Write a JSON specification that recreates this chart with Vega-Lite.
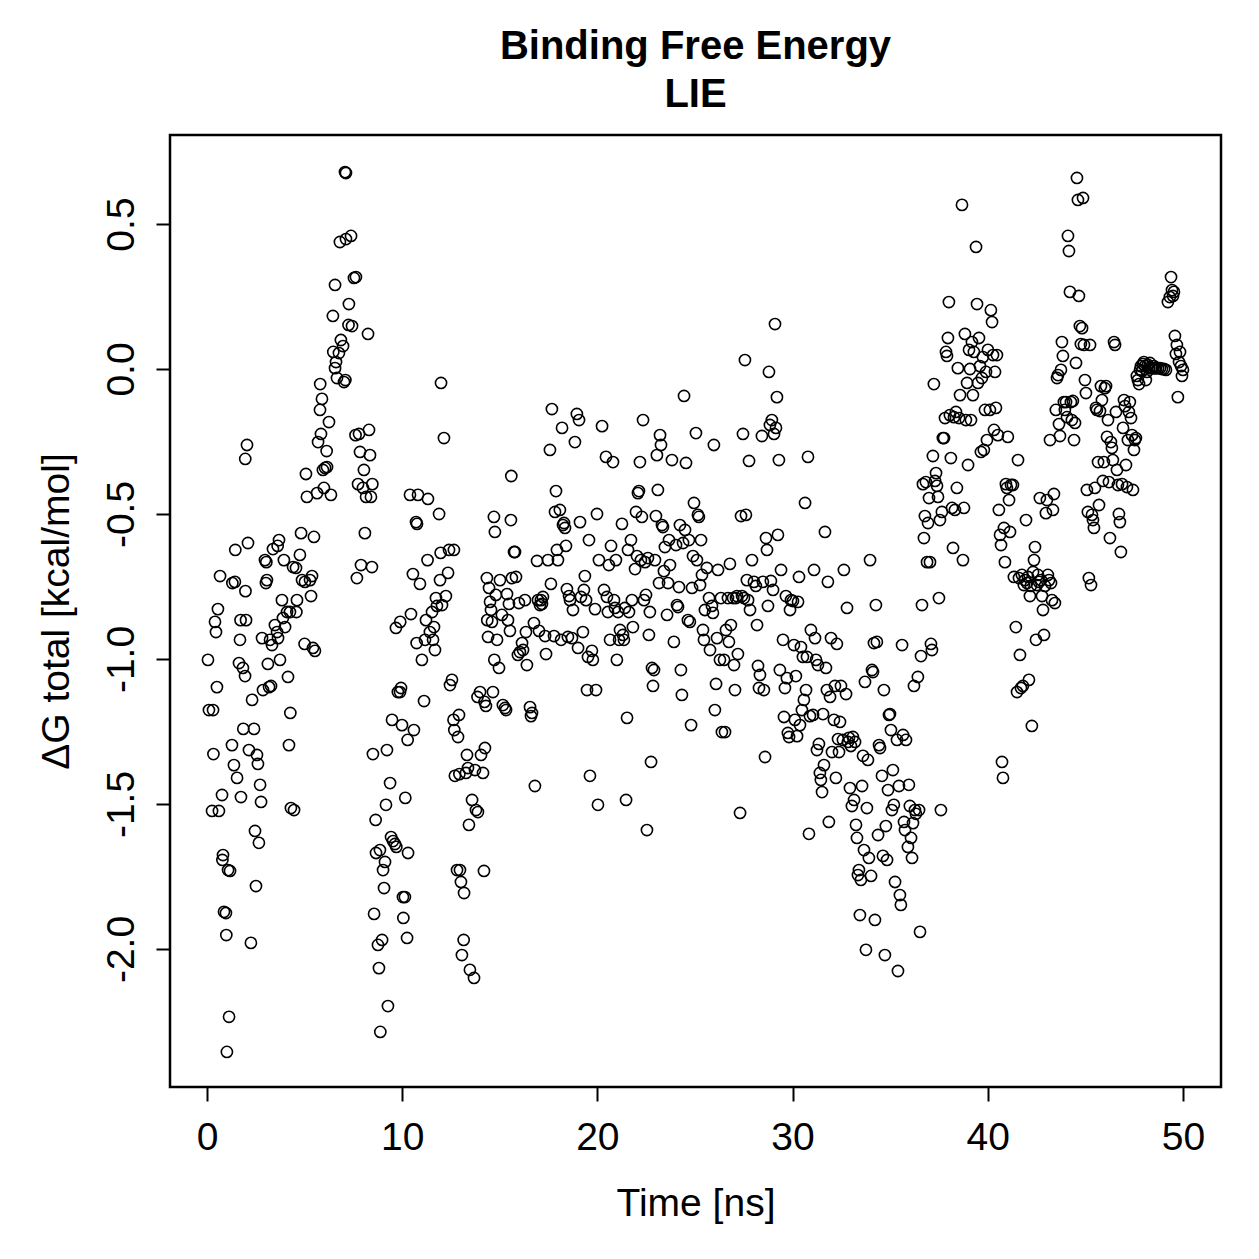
{
"$schema":"https://vega.github.io/schema/vega-lite/v6.json",
"autosize":{"type":"none"},
"width":1051,"height":952,
"padding":{"left":170,"top":135,"right":38,"bottom":172},
"background":"white",
"config":{"view":{"stroke":"black","strokeWidth":2.5},"font":"Liberation Sans"},
"title":{"text":["Binding Free Energy","LIE"],"fontSize":40,"fontWeight":"bold","font":"Liberation Sans","color":"black","anchor":"middle","lineHeight":48,"offset":20},
"data":{"values":[
{"t":0.05,"dG":-1.003},{"t":0.10,"dG":-1.176},{"t":0.31,"dG":-1.176},{"t":0.33,"dG":-1.328},{"t":0.26,"dG":-1.524},{"t":0.46,"dG":-0.907},{"t":0.41,"dG":-0.872},{"t":0.56,"dG":-0.828},{"t":0.51,"dG":-1.097},{"t":0.67,"dG":-0.714},{"t":0.61,"dG":-1.524},{"t":0.77,"dG":-1.469},{"t":0.82,"dG":-1.676},{"t":0.79,"dG":-1.693},{"t":0.87,"dG":-1.872},{"t":0.97,"dG":-1.876},{"t":0.99,"dG":-1.952},{"t":1.08,"dG":-1.728},{"t":1.18,"dG":-1.731},{"t":1.13,"dG":-2.234},{"t":1.02,"dG":-2.355},{"t":1.28,"dG":-1.297},{"t":1.30,"dG":-0.738},{"t":1.43,"dG":-0.734},{"t":1.45,"dG":-0.624},{"t":1.38,"dG":-1.366},{"t":1.54,"dG":-1.410},{"t":1.69,"dG":-0.934},{"t":1.64,"dG":-1.014},{"t":1.84,"dG":-1.031},{"t":1.95,"dG":-1.059},{"t":1.72,"dG":-0.866},{"t":1.97,"dG":-0.766},{"t":1.86,"dG":-1.241},{"t":1.74,"dG":-1.476},{"t":2.05,"dG":-0.262},{"t":1.96,"dG":-0.310},{"t":2.10,"dG":-0.600},{"t":2.00,"dG":-0.866},{"t":2.15,"dG":-1.314},{"t":2.25,"dG":-1.979},
{"t":2.31,"dG":-1.141},{"t":2.41,"dG":-1.241},{"t":2.46,"dG":-1.593},{"t":2.51,"dG":-1.783},{"t":2.56,"dG":-1.331},{"t":2.61,"dG":-1.362},{"t":2.66,"dG":-1.634},{"t":2.72,"dG":-1.434},{"t":2.77,"dG":-1.493},{"t":2.82,"dG":-0.928},{"t":2.87,"dG":-1.107},{"t":2.97,"dG":-0.659},{"t":3.02,"dG":-0.738},{"t":3.04,"dG":-0.666},{"t":3.07,"dG":-0.728},{"t":3.12,"dG":-1.017},{"t":3.18,"dG":-1.097},{"t":3.28,"dG":-1.093},{"t":3.23,"dG":-0.934},{"t":3.33,"dG":-0.952},{"t":3.38,"dG":-0.621},{"t":3.48,"dG":-0.883},{"t":3.59,"dG":-0.907},{"t":3.64,"dG":-0.928},{"t":3.62,"dG":-0.610},{"t":3.69,"dG":-0.590},{"t":3.74,"dG":-1.003},{"t":3.84,"dG":-0.797},{"t":3.89,"dG":-0.859},{"t":3.94,"dG":-0.659},{"t":4.00,"dG":-0.890},
{"t":4.10,"dG":-0.838},{"t":4.25,"dG":-0.838},{"t":4.15,"dG":-1.062},{"t":4.20,"dG":-1.297},{"t":4.27,"dG":-1.186},{"t":4.30,"dG":-1.514},{"t":4.46,"dG":-1.521},{"t":4.41,"dG":-0.683},{"t":4.56,"dG":-0.686},{"t":4.58,"dG":-0.838},{"t":4.61,"dG":-0.797},{"t":4.76,"dG":-0.641},{"t":4.82,"dG":-0.566},{"t":4.87,"dG":-0.728},{"t":5.02,"dG":-0.734},{"t":5.07,"dG":-0.362},{"t":5.12,"dG":-0.441},{"t":5.00,"dG":-0.948},{"t":5.28,"dG":-0.728},{"t":5.38,"dG":-0.714},{"t":5.43,"dG":-0.962},{"t":5.53,"dG":-0.972},{"t":5.33,"dG":-0.783},{"t":5.48,"dG":-0.579},{"t":5.64,"dG":-0.428},{"t":5.69,"dG":-0.252},{"t":5.79,"dG":-0.141},{"t":5.80,"dG":-0.052},{"t":5.89,"dG":-0.103},{"t":5.84,"dG":-0.224},{"t":5.94,"dG":-0.348},{"t":5.99,"dG":-0.410},
{"t":6.05,"dG":-0.341},{"t":6.15,"dG":-0.338},{"t":6.13,"dG":-0.283},{"t":6.25,"dG":-0.183},{"t":6.35,"dG":-0.434},{"t":6.45,"dG":0.183},{"t":6.56,"dG":0.290},{"t":6.47,"dG":0.059},{"t":6.56,"dG":0.003},{"t":6.61,"dG":0.024},{"t":6.66,"dG":-0.031},{"t":6.76,"dG":0.055},{"t":6.81,"dG":0.438},{"t":6.86,"dG":0.100},{"t":6.97,"dG":0.079},{"t":7.02,"dG":-0.045},{"t":7.07,"dG":0.679},{"t":7.12,"dG":0.676},{"t":7.09,"dG":-0.038},{"t":7.12,"dG":0.448},{"t":7.38,"dG":0.459},{"t":7.27,"dG":0.224},{"t":7.25,"dG":0.152},{"t":7.43,"dG":0.148},{"t":7.53,"dG":0.314},{"t":7.63,"dG":0.317},{"t":7.61,"dG":-0.228},{"t":7.68,"dG":-0.721},{"t":7.74,"dG":-0.397},{"t":7.79,"dG":-0.224},{"t":7.84,"dG":-0.286},{"t":7.89,"dG":-0.676},{"t":7.99,"dG":-0.410},{"t":8.09,"dG":-0.566},{"t":8.04,"dG":-0.348},
{"t":8.15,"dG":-0.441},{"t":8.25,"dG":0.121},{"t":8.30,"dG":-0.210},{"t":8.35,"dG":-0.297},{"t":8.40,"dG":-0.441},{"t":8.45,"dG":-0.683},{"t":8.47,"dG":-0.397},{"t":8.50,"dG":-1.328},{"t":8.56,"dG":-1.879},{"t":8.66,"dG":-1.669},{"t":8.64,"dG":-1.555},{"t":8.76,"dG":-1.986},{"t":8.81,"dG":-2.066},{"t":8.86,"dG":-1.659},{"t":8.88,"dG":-2.286},{"t":8.97,"dG":-1.969},{"t":9.02,"dG":-1.728},{"t":9.07,"dG":-1.790},{"t":9.12,"dG":-1.700},{"t":9.17,"dG":-1.503},{"t":9.22,"dG":-1.314},{"t":9.27,"dG":-2.197},{"t":9.38,"dG":-1.428},{"t":9.43,"dG":-1.614},{"t":9.53,"dG":-1.628},{"t":9.63,"dG":-1.638},{"t":9.48,"dG":-1.210},{"t":9.68,"dG":-0.893},{"t":9.70,"dG":-1.648},{"t":9.78,"dG":-1.114},{"t":9.89,"dG":-1.114},{"t":9.90,"dG":-0.872},{"t":9.94,"dG":-1.100},{"t":9.99,"dG":-1.228},{"t":10.04,"dG":-1.821},{"t":10.14,"dG":-1.821},{"t":10.06,"dG":-1.893},{"t":10.25,"dG":-1.962},{"t":10.16,"dG":-1.479},{"t":10.30,"dG":-1.669},{"t":10.28,"dG":-1.279},
{"t":10.40,"dG":-0.434},{"t":10.45,"dG":-0.845},{"t":10.55,"dG":-0.707},{"t":10.60,"dG":-1.245},{"t":10.71,"dG":-0.528},{"t":10.76,"dG":-0.534},{"t":10.74,"dG":-0.945},{"t":10.81,"dG":-0.434},{"t":10.91,"dG":-0.741},{"t":11.01,"dG":-1.003},{"t":11.12,"dG":-1.145},{"t":11.17,"dG":-0.934},{"t":11.22,"dG":-0.866},{"t":11.32,"dG":-0.448},{"t":11.30,"dG":-0.659},{"t":11.42,"dG":-0.907},{"t":11.53,"dG":-0.838},{"t":11.58,"dG":-0.934},{"t":11.63,"dG":-0.890},{"t":11.68,"dG":-0.969},{"t":11.73,"dG":-0.790},{"t":11.78,"dG":-0.817},{"t":11.89,"dG":-0.500},{"t":11.94,"dG":-0.728},{"t":11.99,"dG":-0.048},{"t":12.04,"dG":-0.814},{"t":12.14,"dG":-0.238},{"t":11.97,"dG":-0.634},
{"t":12.24,"dG":-0.783},{"t":12.35,"dG":-0.703},{"t":12.40,"dG":-0.624},{"t":12.65,"dG":-0.624},{"t":12.45,"dG":-1.090},{"t":12.55,"dG":-1.072},{"t":12.63,"dG":-1.210},{"t":12.67,"dG":-1.245},{"t":12.70,"dG":-1.403},{"t":12.81,"dG":-1.728},{"t":12.86,"dG":-1.269},{"t":12.91,"dG":-1.193},{"t":12.93,"dG":-1.397},{"t":12.96,"dG":-1.728},{"t":13.01,"dG":-1.769},{"t":13.06,"dG":-2.021},{"t":13.17,"dG":-1.807},{"t":13.15,"dG":-1.969},{"t":13.27,"dG":-1.393},{"t":13.32,"dG":-1.331},{"t":13.37,"dG":-1.376},{"t":13.42,"dG":-1.572},{"t":13.47,"dG":-2.072},{"t":13.58,"dG":-1.486},{"t":13.68,"dG":-2.100},{"t":13.73,"dG":-1.383},{"t":13.78,"dG":-1.521},{"t":13.88,"dG":-1.528},{"t":13.86,"dG":-1.131},{"t":13.99,"dG":-1.114},{"t":14.04,"dG":-1.331},{"t":14.14,"dG":-1.393},{"t":14.19,"dG":-1.731},{"t":14.24,"dG":-1.307},{"t":14.22,"dG":-1.148},{"t":14.29,"dG":-1.162},
{"t":14.34,"dG":-0.721},{"t":14.36,"dG":-0.866},{"t":14.40,"dG":-0.924},{"t":14.45,"dG":-0.755},{"t":14.50,"dG":-0.803},{"t":14.55,"dG":-0.831},{"t":14.60,"dG":-0.872},{"t":14.65,"dG":-1.114},{"t":14.70,"dG":-0.510},{"t":14.72,"dG":-1.003},{"t":14.75,"dG":-0.562},{"t":14.80,"dG":-0.779},{"t":14.86,"dG":-0.934},{"t":14.96,"dG":-1.031},{"t":15.01,"dG":-0.728},{"t":15.11,"dG":-0.848},{"t":15.16,"dG":-1.159},{"t":15.27,"dG":-1.169},{"t":15.32,"dG":-1.176},{"t":15.37,"dG":-0.776},{"t":15.42,"dG":-0.866},{"t":15.47,"dG":-0.810},{"t":15.52,"dG":-0.903},{"t":15.57,"dG":-0.521},{"t":15.59,"dG":-0.369},{"t":15.62,"dG":-0.721},{"t":15.73,"dG":-0.631},{"t":15.78,"dG":-0.631},{"t":15.83,"dG":-0.717},{"t":15.93,"dG":-0.986},{"t":15.98,"dG":-0.807},
{"t":16.03,"dG":-0.976},{"t":16.19,"dG":-0.969},{"t":16.14,"dG":-0.945},{"t":16.29,"dG":-0.797},{"t":16.34,"dG":-0.907},{"t":16.39,"dG":-1.021},{"t":16.55,"dG":-1.166},{"t":16.60,"dG":-1.197},{"t":16.65,"dG":-1.186},{"t":16.75,"dG":-0.876},{"t":16.80,"dG":-1.438},{"t":16.91,"dG":-0.662},{"t":16.96,"dG":-0.797},{"t":17.01,"dG":-0.903},{"t":17.06,"dG":-0.814},{"t":17.11,"dG":-0.797},{"t":17.16,"dG":-0.810},{"t":17.21,"dG":-0.786},{"t":17.32,"dG":-0.921},{"t":17.37,"dG":-0.983},{"t":17.47,"dG":-0.659},{"t":17.57,"dG":-0.279},{"t":17.62,"dG":-0.741},{"t":17.67,"dG":-0.138},{"t":17.78,"dG":-0.921},{"t":17.83,"dG":-0.493},{"t":17.88,"dG":-0.421},{"t":17.93,"dG":-0.624},{"t":17.98,"dG":-0.659},
{"t":18.08,"dG":-0.486},{"t":18.14,"dG":-0.934},{"t":18.19,"dG":-0.203},{"t":18.24,"dG":-0.538},{"t":18.29,"dG":-0.531},{"t":18.34,"dG":-0.548},{"t":18.39,"dG":-0.610},{"t":18.44,"dG":-0.759},{"t":18.49,"dG":-0.924},{"t":18.55,"dG":-0.783},{"t":18.60,"dG":-0.797},{"t":18.70,"dG":-0.928},{"t":18.75,"dG":-0.831},{"t":18.85,"dG":-0.252},{"t":18.95,"dG":-0.155},{"t":19.01,"dG":-0.962},{"t":19.06,"dG":-0.176},{"t":19.11,"dG":-0.528},{"t":19.16,"dG":-0.786},{"t":19.26,"dG":-0.907},{"t":19.31,"dG":-0.762},{"t":19.36,"dG":-0.714},{"t":19.42,"dG":-0.797},{"t":19.47,"dG":-1.107},{"t":19.52,"dG":-0.993},{"t":19.57,"dG":-0.590},{"t":19.62,"dG":-1.403},{"t":19.72,"dG":-0.972},{"t":19.77,"dG":-1.003},{"t":19.88,"dG":-0.828},{"t":19.93,"dG":-1.107},{"t":19.98,"dG":-0.500},{"t":20.03,"dG":-1.503},{"t":20.08,"dG":-0.659},
{"t":20.24,"dG":-0.197},{"t":20.34,"dG":-0.762},{"t":20.44,"dG":-0.303},{"t":20.49,"dG":-0.786},{"t":20.54,"dG":-0.838},{"t":20.59,"dG":-0.676},{"t":20.65,"dG":-0.934},{"t":20.70,"dG":-0.610},{"t":20.80,"dG":-0.321},{"t":20.85,"dG":-0.797},{"t":20.90,"dG":-0.824},{"t":20.95,"dG":-0.659},{"t":21.00,"dG":-1.003},{"t":21.06,"dG":-0.838},{"t":21.11,"dG":-0.934},{"t":21.16,"dG":-0.900},{"t":21.26,"dG":-0.534},{"t":21.31,"dG":-0.917},{"t":21.36,"dG":-0.934},{"t":21.41,"dG":-0.824},{"t":21.47,"dG":-1.486},{"t":21.52,"dG":-1.203},{"t":21.57,"dG":-0.624},{"t":21.62,"dG":-0.838},{"t":21.72,"dG":-0.590},{"t":21.77,"dG":-0.797},{"t":21.82,"dG":-0.890},{"t":21.93,"dG":-0.690},{"t":21.98,"dG":-0.493},
{"t":22.03,"dG":-0.645},{"t":22.08,"dG":-0.428},{"t":22.13,"dG":-0.421},{"t":22.18,"dG":-0.321},{"t":22.23,"dG":-0.659},{"t":22.28,"dG":-0.510},{"t":22.34,"dG":-0.176},{"t":22.39,"dG":-0.797},{"t":22.44,"dG":-0.666},{"t":22.49,"dG":-0.779},{"t":22.54,"dG":-1.590},{"t":22.59,"dG":-0.652},{"t":22.64,"dG":-0.917},{"t":22.69,"dG":-0.838},{"t":22.75,"dG":-1.355},{"t":22.80,"dG":-1.031},{"t":22.85,"dG":-1.093},{"t":22.90,"dG":-1.038},{"t":22.95,"dG":-0.659},{"t":23.00,"dG":-0.507},{"t":23.05,"dG":-0.297},{"t":23.10,"dG":-0.417},{"t":23.16,"dG":-0.738},{"t":23.21,"dG":-0.228},{"t":23.26,"dG":-0.262},{"t":23.31,"dG":-0.538},{"t":23.36,"dG":-0.545},{"t":23.41,"dG":-0.697},{"t":23.46,"dG":-0.614},{"t":23.57,"dG":-0.848},{"t":23.62,"dG":-0.738},{"t":23.67,"dG":-0.590},{"t":23.72,"dG":-0.676},{"t":23.82,"dG":-0.314},{"t":23.92,"dG":-0.941},
{"t":24.03,"dG":-0.607},{"t":24.08,"dG":-0.814},{"t":24.13,"dG":-0.821},{"t":24.18,"dG":-0.752},{"t":24.23,"dG":-0.538},{"t":24.28,"dG":-1.038},{"t":24.33,"dG":-1.124},{"t":24.39,"dG":-0.600},{"t":24.44,"dG":-0.093},{"t":24.49,"dG":-0.555},{"t":24.54,"dG":-0.324},{"t":24.64,"dG":-0.866},{"t":24.69,"dG":-0.590},{"t":24.74,"dG":-0.872},{"t":24.80,"dG":-1.228},{"t":24.85,"dG":-0.755},{"t":24.90,"dG":-0.645},{"t":24.95,"dG":-0.462},{"t":25.05,"dG":-0.221},{"t":25.10,"dG":-0.659},{"t":25.15,"dG":-0.503},{"t":25.20,"dG":-0.510},{"t":25.26,"dG":-0.745},{"t":25.31,"dG":-0.590},{"t":25.36,"dG":-0.710},{"t":25.41,"dG":-0.900},{"t":25.46,"dG":-0.934},{"t":25.51,"dG":-0.831},{"t":25.61,"dG":-0.686},{"t":25.72,"dG":-0.790},{"t":25.77,"dG":-0.969},{"t":25.87,"dG":-0.817},{"t":25.92,"dG":-0.841},{"t":25.97,"dG":-0.262},
{"t":26.02,"dG":-1.176},{"t":26.08,"dG":-1.086},{"t":26.13,"dG":-0.928},{"t":26.18,"dG":-0.693},{"t":26.28,"dG":-1.003},{"t":26.33,"dG":-0.790},{"t":26.38,"dG":-1.252},{"t":26.49,"dG":-1.003},{"t":26.54,"dG":-1.252},{"t":26.59,"dG":-0.900},{"t":26.69,"dG":-0.790},{"t":26.74,"dG":-0.941},{"t":26.79,"dG":-0.672},{"t":26.84,"dG":-0.883},{"t":26.95,"dG":-0.790},{"t":27.00,"dG":-1.021},{"t":27.05,"dG":-1.107},{"t":27.10,"dG":-0.790},{"t":27.15,"dG":-0.783},{"t":27.20,"dG":-0.983},{"t":27.31,"dG":-1.531},{"t":27.36,"dG":-0.507},{"t":27.41,"dG":-0.783},{"t":27.46,"dG":-0.224},{"t":27.51,"dG":-0.790},{"t":27.56,"dG":0.031},{"t":27.61,"dG":-0.503},{"t":27.66,"dG":-0.728},{"t":27.72,"dG":-0.797},{"t":27.77,"dG":-0.317},{"t":27.82,"dG":-0.831},{"t":27.92,"dG":-0.659},
{"t":28.02,"dG":-0.734},{"t":28.12,"dG":-0.748},{"t":28.18,"dG":-0.883},{"t":28.23,"dG":-1.024},{"t":28.28,"dG":-1.100},{"t":28.33,"dG":-1.055},{"t":28.43,"dG":-0.231},{"t":28.48,"dG":-0.734},{"t":28.53,"dG":-1.107},{"t":28.59,"dG":-1.338},{"t":28.64,"dG":-0.583},{"t":28.69,"dG":-0.624},{"t":28.74,"dG":-0.817},{"t":28.79,"dG":-0.010},{"t":28.84,"dG":-0.193},{"t":28.89,"dG":-0.731},{"t":28.94,"dG":-0.176},{"t":29.00,"dG":-0.762},{"t":29.05,"dG":-0.224},{"t":29.10,"dG":0.155},{"t":29.15,"dG":-0.203},{"t":29.20,"dG":-0.097},{"t":29.25,"dG":-0.572},{"t":29.30,"dG":-0.314},{"t":29.35,"dG":-1.038},{"t":29.41,"dG":-0.693},{"t":29.51,"dG":-0.934},{"t":29.56,"dG":-1.200},{"t":29.61,"dG":-1.100},{"t":29.66,"dG":-0.783},{"t":29.71,"dG":-1.066},{"t":29.76,"dG":-1.255},{"t":29.82,"dG":-1.269},{"t":29.87,"dG":-0.831},{"t":29.92,"dG":-0.797},
{"t":30.02,"dG":-0.800},{"t":30.07,"dG":-0.952},{"t":30.12,"dG":-1.210},{"t":30.17,"dG":-1.059},{"t":30.23,"dG":-1.266},{"t":30.28,"dG":-0.803},{"t":30.33,"dG":-0.717},{"t":30.38,"dG":-1.228},{"t":30.43,"dG":-0.959},{"t":30.48,"dG":-1.176},{"t":30.53,"dG":-0.993},{"t":30.58,"dG":-1.141},{"t":30.64,"dG":-0.462},{"t":30.69,"dG":-1.107},{"t":30.74,"dG":-0.993},{"t":30.79,"dG":-0.303},{"t":30.84,"dG":-1.603},{"t":30.89,"dG":-1.197},{"t":30.94,"dG":-0.900},{"t":31.05,"dG":-1.193},{"t":31.10,"dG":-0.693},{"t":31.15,"dG":-0.928},{"t":31.20,"dG":-1.003},{"t":31.25,"dG":-1.314},{"t":31.30,"dG":-1.021},{"t":31.35,"dG":-1.293},{"t":31.40,"dG":-1.393},{"t":31.45,"dG":-1.417},{"t":31.51,"dG":-1.459},{"t":31.56,"dG":-1.190},{"t":31.61,"dG":-1.366},{"t":31.66,"dG":-0.562},{"t":31.71,"dG":-1.031},{"t":31.76,"dG":-1.107},{"t":31.81,"dG":-0.734},{"t":31.86,"dG":-1.562},{"t":31.92,"dG":-1.131},{"t":31.97,"dG":-0.928},
{"t":32.02,"dG":-1.321},{"t":32.12,"dG":-1.210},{"t":32.17,"dG":-1.093},{"t":32.22,"dG":-1.410},{"t":32.27,"dG":-0.948},{"t":32.33,"dG":-1.276},{"t":32.38,"dG":-1.321},{"t":32.43,"dG":-1.217},{"t":32.48,"dG":-1.093},{"t":32.58,"dG":-1.279},{"t":32.63,"dG":-0.693},{"t":32.74,"dG":-1.121},{"t":32.79,"dG":-0.824},{"t":32.84,"dG":-1.286},{"t":32.89,"dG":-1.272},{"t":32.94,"dG":-1.445},{"t":32.99,"dG":-1.300},{"t":33.04,"dG":-1.507},{"t":33.09,"dG":-1.269},{"t":33.15,"dG":-1.486},{"t":33.20,"dG":-1.286},{"t":33.25,"dG":-1.572},{"t":33.30,"dG":-1.617},{"t":33.35,"dG":-1.745},{"t":33.40,"dG":-1.728},{"t":33.45,"dG":-1.883},{"t":33.50,"dG":-1.762},{"t":33.56,"dG":-1.438},{"t":33.61,"dG":-1.334},{"t":33.66,"dG":-1.659},{"t":33.71,"dG":-1.079},{"t":33.76,"dG":-2.003},{"t":33.81,"dG":-1.514},{"t":33.86,"dG":-1.348},{"t":33.91,"dG":-1.686},{"t":33.97,"dG":-0.659},
{"t":34.02,"dG":-1.748},{"t":34.07,"dG":-1.038},{"t":34.12,"dG":-1.045},{"t":34.17,"dG":-0.945},{"t":34.22,"dG":-1.900},{"t":34.27,"dG":-0.814},{"t":34.32,"dG":-0.941},{"t":34.38,"dG":-1.607},{"t":34.43,"dG":-1.297},{"t":34.48,"dG":-1.307},{"t":34.58,"dG":-1.403},{"t":34.63,"dG":-1.679},{"t":34.68,"dG":-1.107},{"t":34.73,"dG":-2.021},{"t":34.78,"dG":-1.576},{"t":34.84,"dG":-1.693},{"t":34.89,"dG":-1.452},{"t":34.94,"dG":-1.193},{"t":34.99,"dG":-1.190},{"t":35.04,"dG":-1.245},{"t":35.09,"dG":-1.521},{"t":35.14,"dG":-1.383},{"t":35.19,"dG":-1.503},{"t":35.25,"dG":-1.769},{"t":35.35,"dG":-1.279},{"t":35.40,"dG":-2.076},{"t":35.45,"dG":-1.438},{"t":35.50,"dG":-1.814},{"t":35.55,"dG":-1.848},{"t":35.61,"dG":-0.952},{"t":35.66,"dG":-1.262},{"t":35.71,"dG":-1.562},{"t":35.76,"dG":-1.590},{"t":35.81,"dG":-1.279},{"t":35.91,"dG":-1.648},
{"t":35.96,"dG":-1.434},{"t":36.01,"dG":-1.507},{"t":36.07,"dG":-1.617},{"t":36.12,"dG":-1.686},{"t":36.17,"dG":-1.566},{"t":36.22,"dG":-1.093},{"t":36.27,"dG":-1.521},{"t":36.32,"dG":-1.534},{"t":36.42,"dG":-1.062},{"t":36.48,"dG":-1.521},{"t":36.53,"dG":-1.941},{"t":36.58,"dG":-0.990},{"t":36.63,"dG":-0.814},{"t":36.68,"dG":-0.397},{"t":36.73,"dG":-0.583},{"t":36.78,"dG":-0.507},{"t":36.83,"dG":-0.390},{"t":36.89,"dG":-0.666},{"t":36.94,"dG":-0.531},{"t":36.99,"dG":-0.445},{"t":37.04,"dG":-0.666},{"t":37.09,"dG":-0.948},{"t":37.14,"dG":-0.969},{"t":37.19,"dG":-0.300},{"t":37.24,"dG":-0.052},{"t":37.30,"dG":-0.386},{"t":37.35,"dG":-0.359},{"t":37.40,"dG":-0.403},{"t":37.45,"dG":-0.441},{"t":37.50,"dG":-0.790},{"t":37.55,"dG":-0.521},{"t":37.60,"dG":-1.521},{"t":37.65,"dG":-0.493},{"t":37.70,"dG":-0.238},{"t":37.76,"dG":-0.238},{"t":37.81,"dG":-0.169},{"t":37.86,"dG":0.059},{"t":37.91,"dG":0.045},
{"t":37.96,"dG":0.107},{"t":38.01,"dG":0.231},{"t":38.06,"dG":-0.159},{"t":38.11,"dG":-0.307},{"t":38.17,"dG":-0.479},{"t":38.22,"dG":-0.617},{"t":38.27,"dG":-0.166},{"t":38.32,"dG":-0.486},{"t":38.37,"dG":-0.148},{"t":38.42,"dG":-0.410},{"t":38.47,"dG":0.003},{"t":38.53,"dG":-0.169},{"t":38.58,"dG":-0.090},{"t":38.68,"dG":0.566},{"t":38.73,"dG":-0.659},{"t":38.78,"dG":-0.479},{"t":38.83,"dG":0.121},{"t":38.88,"dG":-0.176},{"t":38.94,"dG":-0.048},{"t":38.99,"dG":-0.331},{"t":39.04,"dG":0.066},{"t":39.09,"dG":0.0},{"t":39.14,"dG":-0.176},{"t":39.19,"dG":0.093},{"t":39.24,"dG":-0.090},{"t":39.29,"dG":0.059},{"t":39.40,"dG":0.421},{"t":39.45,"dG":0.224},{"t":39.50,"dG":-0.048},{"t":39.55,"dG":0.107},{"t":39.60,"dG":0.010},{"t":39.65,"dG":-0.286},{"t":39.70,"dG":-0.031},{"t":39.75,"dG":0.041},{"t":39.80,"dG":-0.279},{"t":39.86,"dG":-0.141},{"t":39.91,"dG":-0.010},{"t":39.96,"dG":-0.245},
{"t":40.01,"dG":0.066},{"t":40.11,"dG":-0.141},{"t":40.16,"dG":0.203},{"t":40.22,"dG":0.162},{"t":40.27,"dG":0.048},{"t":40.32,"dG":-0.210},{"t":40.37,"dG":-0.010},{"t":40.42,"dG":-0.134},{"t":40.47,"dG":0.048},{"t":40.52,"dG":-0.228},{"t":40.57,"dG":-0.486},{"t":40.63,"dG":-0.572},{"t":40.68,"dG":-0.607},{"t":40.73,"dG":-1.355},{"t":40.78,"dG":-1.410},{"t":40.83,"dG":-0.548},{"t":40.88,"dG":-0.666},{"t":40.93,"dG":-0.397},{"t":40.98,"dG":-0.410},{"t":41.03,"dG":-0.234},{"t":41.09,"dG":-0.452},{"t":41.14,"dG":-0.562},{"t":41.19,"dG":-0.400},{"t":41.29,"dG":-0.400},{"t":41.34,"dG":-0.717},{"t":41.44,"dG":-0.890},{"t":41.50,"dG":-1.114},{"t":41.55,"dG":-0.314},{"t":41.60,"dG":-0.721},{"t":41.65,"dG":-0.986},{"t":41.70,"dG":-1.100},{"t":41.75,"dG":-0.710},{"t":41.80,"dG":-1.093},{"t":41.85,"dG":-0.745},{"t":41.91,"dG":-0.728},{"t":41.96,"dG":-0.521},
{"t":42.01,"dG":-0.738},{"t":42.06,"dG":-0.717},{"t":42.11,"dG":-1.072},{"t":42.16,"dG":-0.783},{"t":42.21,"dG":-0.748},{"t":42.26,"dG":-1.231},{"t":42.32,"dG":-0.700},{"t":42.37,"dG":-0.659},{"t":42.42,"dG":-0.614},{"t":42.47,"dG":-0.934},{"t":42.52,"dG":-0.745},{"t":42.57,"dG":-0.710},{"t":42.62,"dG":-0.734},{"t":42.67,"dG":-0.445},{"t":42.73,"dG":-0.728},{"t":42.78,"dG":-0.783},{"t":42.83,"dG":-0.831},{"t":42.88,"dG":-0.917},{"t":42.93,"dG":-0.748},{"t":42.98,"dG":-0.497},{"t":43.03,"dG":-0.452},{"t":43.08,"dG":-0.710},{"t":43.14,"dG":-0.728},{"t":43.19,"dG":-0.245},{"t":43.24,"dG":-0.738},{"t":43.29,"dG":-0.797},{"t":43.34,"dG":-0.486},{"t":43.39,"dG":-0.431},{"t":43.44,"dG":-0.807},{"t":43.49,"dG":-0.141},{"t":43.55,"dG":-0.031},{"t":43.60,"dG":-0.021},{"t":43.65,"dG":-0.190},{"t":43.70,"dG":-0.231},{"t":43.75,"dG":-0.003},{"t":43.80,"dG":0.093},{"t":43.85,"dG":0.045},{"t":43.90,"dG":-0.114},{"t":43.95,"dG":-0.141},
{"t":44.01,"dG":-0.114},{"t":44.06,"dG":-0.166},{"t":44.11,"dG":0.459},{"t":44.16,"dG":0.407},{"t":44.21,"dG":0.266},{"t":44.26,"dG":-0.114},{"t":44.31,"dG":-0.176},{"t":44.36,"dG":-0.110},{"t":44.42,"dG":-0.245},{"t":44.47,"dG":-0.186},{"t":44.52,"dG":0.021},{"t":44.57,"dG":0.659},{"t":44.62,"dG":0.583},{"t":44.67,"dG":0.252},{"t":44.72,"dG":0.148},{"t":44.77,"dG":0.086},{"t":44.83,"dG":0.141},{"t":44.88,"dG":0.590},{"t":44.93,"dG":0.083},{"t":44.98,"dG":-0.038},{"t":45.03,"dG":-0.083},{"t":45.08,"dG":-0.417},{"t":45.13,"dG":-0.493},{"t":45.18,"dG":-0.721},{"t":45.24,"dG":0.083},{"t":45.29,"dG":-0.745},{"t":45.34,"dG":-0.503},{"t":45.39,"dG":-0.521},{"t":45.44,"dG":-0.548},{"t":45.49,"dG":-0.410},{"t":45.54,"dG":-0.134},{"t":45.59,"dG":-0.141},{"t":45.65,"dG":-0.321},{"t":45.70,"dG":-0.469},{"t":45.75,"dG":-0.145},{"t":45.80,"dG":-0.059},{"t":45.85,"dG":-0.107},{"t":45.90,"dG":-0.386},{"t":45.95,"dG":-0.321},
{"t":46.00,"dG":-0.066},{"t":46.06,"dG":-0.059},{"t":46.11,"dG":-0.234},{"t":46.16,"dG":-0.176},{"t":46.21,"dG":-0.390},{"t":46.26,"dG":-0.583},{"t":46.31,"dG":-0.252},{"t":46.36,"dG":-0.272},{"t":46.41,"dG":-0.314},{"t":46.47,"dG":0.093},{"t":46.52,"dG":0.083},{"t":46.57,"dG":-0.148},{"t":46.62,"dG":-0.348},{"t":46.67,"dG":-0.400},{"t":46.72,"dG":-0.500},{"t":46.77,"dG":-0.528},{"t":46.82,"dG":-0.631},{"t":46.88,"dG":-0.397},{"t":46.93,"dG":-0.203},{"t":46.98,"dG":-0.107},{"t":47.03,"dG":-0.128},{"t":47.08,"dG":-0.331},{"t":47.13,"dG":-0.407},{"t":47.18,"dG":-0.245},{"t":47.23,"dG":-0.148},{"t":47.28,"dG":-0.114},{"t":47.34,"dG":-0.169},{"t":47.39,"dG":-0.228},{"t":47.44,"dG":-0.417},{"t":47.49,"dG":-0.279},{"t":47.54,"dG":-0.245},{"t":47.59,"dG":-0.238},{"t":47.64,"dG":-0.024},{"t":47.69,"dG":-0.038},{"t":47.75,"dG":-0.052},{"t":47.80,"dG":-0.003},{"t":47.85,"dG":0.010},{"t":47.90,"dG":-0.007},{"t":47.95,"dG":0.017},
{"t":48.00,"dG":0.024},{"t":48.05,"dG":0.010},{"t":48.10,"dG":-0.038},{"t":48.16,"dG":-0.010},{"t":48.21,"dG":0.014},{"t":48.26,"dG":0.003},{"t":48.31,"dG":0.021},{"t":48.41,"dG":0.003},{"t":48.46,"dG":0.003},{"t":48.51,"dG":0.010},{"t":48.57,"dG":0.003},{"t":48.62,"dG":0.003},{"t":48.72,"dG":0.003},{"t":48.82,"dG":0.003},{"t":48.92,"dG":0.0},{"t":49.03,"dG":0.0},{"t":49.13,"dG":-0.003},{"t":49.23,"dG":0.231},{"t":49.33,"dG":0.248},{"t":49.39,"dG":0.317},{"t":49.44,"dG":0.272},{"t":49.49,"dG":0.252},{"t":49.54,"dG":0.266},{"t":49.59,"dG":0.114},{"t":49.64,"dG":0.052},{"t":49.69,"dG":0.083},{"t":49.74,"dG":-0.097},{"t":49.80,"dG":0.024},{"t":49.85,"dG":0.059},{"t":49.90,"dG":0.010},{"t":49.95,"dG":-0.024},{"t":50.00,"dG":-0.003}
]},
"mark":{"type":"point","shape":"circle","filled":false,"stroke":"black","strokeWidth":1.6,"size":125,"opacity":1,"clip":true},
"encoding":{
"x":{"field":"t","type":"quantitative","scale":{"domain":[-1.895,51.95],"nice":false,"zero":false},
"axis":{"title":"Time [ns]","values":[0,10,20,30,40,50],"grid":false,"domain":false,"tickSize":14,"tickWidth":2,"tickColor":"black","labelFontSize":39,"labelFont":"Liberation Sans","labelColor":"black","labelBaseline":"alphabetic","labelPadding":48,"labelFlush":false,"titleFontSize":39,"titleFont":"Liberation Sans","titleFontWeight":"normal","titleColor":"black","titleBaseline":"alphabetic","titleX":525.5,"titleY":128,"titleAnchor":"middle"}},
"y":{"field":"dG","type":"quantitative","scale":{"domain":[-2.476,0.807],"nice":false,"zero":false},
"axis":{"title":"ΔG total [kcal/mol]","values":[-2,-1.5,-1,-0.5,0,0.5],"labelExpr":"replace(format(datum.value,'.1f'),'−','-')","grid":false,"domain":false,"tickSize":14,"tickWidth":2,"tickColor":"black","labelFontSize":39,"labelFont":"Liberation Sans","labelColor":"black","labelAngle":-90,"labelAlign":"center","labelBaseline":"alphabetic","labelPadding":23,"labelFlush":false,"titleFontSize":39,"titleFont":"Liberation Sans","titleFontWeight":"normal","titleColor":"black","titleAngle":-90,"titleAlign":"center","titleBaseline":"alphabetic","titleX":-102,"titleY":476}}
}
}
